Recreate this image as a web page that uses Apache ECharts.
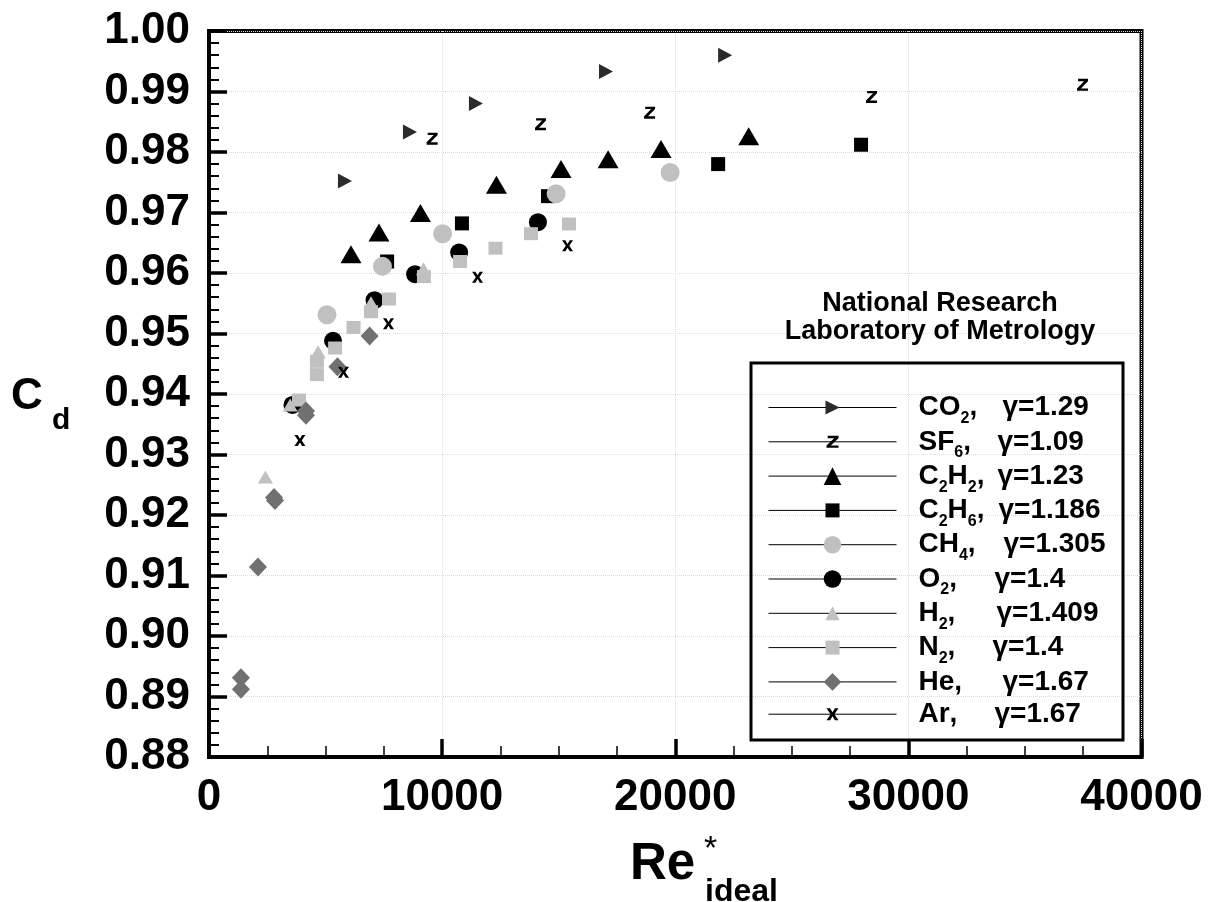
<!DOCTYPE html>
<html><head><meta charset="utf-8">
<script src="https://cdn.jsdelivr.net/npm/echarts@6/dist/echarts.min.js"></script>
<style>html,body{margin:0;padding:0;background:#fff}#c{width:1214px;height:902px}</style>
</head><body><div id="c"></div>
<script>
const FONT = '"Liberation Sans", Arial, Helvetica, sans-serif';

// ---- data (Re*ideal, Cd) ----
const seriesNames = ['CO2','SF6','C2H2','C2H6','CH4','O2','H2','N2','He','Ar'];
const co2  = [[5830,0.9752],[8620,0.9833],[11450,0.9880],[17030,0.9933],[22140,0.9960]];
const sf6  = [[9570,0.9822],[14220,0.9846],[18900,0.9865],[28420,0.9891],[37470,0.9911]];
const c2h2 = [[6090,0.9631],[7290,0.9667],[9070,0.9699],[12330,0.9746],[15100,0.9772],[17120,0.9788],[19390,0.9805],[23150,0.9826]];
const c2h6 = [[7640,0.9619],[10850,0.9682],[14540,0.9727],[21840,0.9780],[27970,0.9812]];
const ch4  = [[5060,0.9531],[7440,0.9611],[10020,0.9665],[14890,0.9731],[19780,0.9766]];
const o2   = [[3580,0.9382],[5320,0.9488],[7100,0.9555],[8840,0.9598],[10730,0.9634],[14110,0.9684]];
const h2   = [[2420,0.9263],[3480,0.9382],[4680,0.9470],[6950,0.9551],[9200,0.9607]];
const n2   = [[3860,0.9390],[4630,0.9454],[4630,0.9432],[5410,0.9476],[6200,0.9510],[6950,0.9536],[7720,0.9557],[9220,0.9594],[10770,0.9619],[12290,0.9641],[13810,0.9665],[15440,0.9681]];
const he   = [[1370,0.8931],[1370,0.8912],[2100,0.9114],[2790,0.9229],[2830,0.9224],[4160,0.9372],[4160,0.9365],[5510,0.9445],[6890,0.9496]];
const ar   = [[3900,0.9323],[5770,0.9436],[7700,0.9516],[11520,0.9593],[15380,0.9645]];
const seriesData = [co2, sf6, c2h2, c2h6, ch4, o2, h2, n2, he, ar];

// legend text pieces: [text, isSubscript]
const legendParts = [
  [['CO',0],['2',1]],
  [['SF',0],['6',1]],
  [['C',0],['2',1],['H',0],['2',1]],
  [['C',0],['2',1],['H',0],['6',1]],
  [['CH',0],['4',1]],
  [['O',0],['2',1]],
  [['H',0],['2',1]],
  [['N',0],['2',1]],
  [['He',0]],
  [['Ar',0]]
];
const legendGamma = ['γ=1.29','γ=1.09','γ=1.23','γ=1.186','γ=1.305','γ=1.4','γ=1.409','γ=1.4','γ=1.67','γ=1.67'];
const gammaOffset = [84,79,79,80,85,76,78,74,84,76];

// ---- marker shapes (0..10 unit box), padded so legend glyphs keep their relative size ----
const ITEM_H = 22, LEG_SYM = ITEM_H * 0.8;
function padded(body, glyph) {
  const p = (LEG_SYM * 10 / glyph - 10) / 2;
  const a = -p, b = 10 + p;
  return {path: 'path://M' + a + ',' + a + ' L' + a + ',' + a + ' M' + b + ',' + b + ' L' + b + ',' + b + ' ' + body, k: (10 + 2 * p) / 10};
}
const TRI_R = 'M0,0 L10,5 L0,10 Z';
const ZED = 'M1,0 L10,0 L10,2 L3.6,8 L10,8 L10,10 L0,10 L0,8 L6.4,2 L1,2 Z';
const EX = 'M0,0 L3,0 L5,3.3 L7,0 L10,0 L6.6,5 L10,10 L7,10 L5,6.7 L3,10 L0,10 L3.4,5 Z';
const SQ = 'M0,0 L10,0 L10,10 L0,10 Z';
const TRI_U = 'M5,0 L10,10 L0,10 Z';
function mk(body, glyph, size, color) {
  const q = padded(body, glyph);
  return {symbol: q.path, size: [size[0] * q.k, size[1] * q.k], color: color};
}
const styles = [
  mk(TRI_R, 14, [14,15], '#2b2b2b'),
  mk(ZED, 12, [11,12], '#000'),
  {symbol: 'triangle', size: [21,18], color: '#000'},
  mk(SQ, 14, [14,14], '#000'),
  {symbol: 'circle', size: 19, color: '#c0c0c0'},
  {symbol: 'circle', size: 18, color: '#000'},
  mk(TRI_U, 14, [15,13], '#c0c0c0'),
  mk(SQ, 14, [14,13], '#c0c0c0'),
  {symbol: 'diamond', size: [18,19], color: '#707070'},
  mk(EX, 12, [11,11], '#000')
];

const MAIN = 28, SUB = 16, LH = 34;
const ctx = document.createElement('canvas').getContext('2d');
function tw(t, size) { ctx.font = 'bold ' + size + 'px ' + FONT; return ctx.measureText(t).width; }

const rich = {
  sp: {width: 17, fontSize: MAIN, fontWeight: 'bold', fontFamily: FONT, lineHeight: LH, color: '#000'},
  m: {fontSize: MAIN, fontWeight: 'bold', fontFamily: FONT, lineHeight: LH, color: '#000', verticalAlign: 'middle'},
  s: {fontSize: SUB, fontWeight: 'bold', fontFamily: FONT, lineHeight: 12, height: 12, color: '#000', verticalAlign: 'bottom'},
  g: {fontSize: MAIN, fontWeight: 'bold', fontFamily: FONT, lineHeight: LH, color: '#000', verticalAlign: 'middle'}
};
const legendText = {};
seriesNames.forEach((n, i) => {
  let w = 0, str = '{sp| }';
  legendParts[i].forEach(p => {
    w += tw(p[0], p[1] ? SUB : MAIN);
    str += '{' + (p[1] ? 's' : 'm') + '|' + p[0] + '}';
  });
  const cw = Math.max(tw(',', MAIN) + 2, gammaOffset[i] - w);
  rich['c' + i] = {width: cw, fontSize: MAIN, fontWeight: 'bold', fontFamily: FONT, lineHeight: LH, color: '#000', verticalAlign: 'middle'};
  str += '{c' + i + '|,}{g|' + legendGamma[i] + '}';
  legendText[n] = str;
});

const series = seriesNames.map((n, i) => ({
  name: n,
  type: 'line',
  data: seriesData[i],
  symbol: styles[i].symbol,
  symbolSize: styles[i].size,
  showSymbol: true,
  itemStyle: {color: styles[i].color, opacity: 1},
  lineStyle: {width: 0, opacity: 0},
  silent: true,
  animation: false
}));

const chart = echarts.init(document.getElementById('c'), null, {renderer: 'canvas'});
chart.setOption({
  backgroundColor: '#fff',
  animation: false,
  grid: {left: 209, right: 72.5, top: 31, bottom: 145, show: true, borderColor: '#000', borderWidth: 4, backgroundColor: 'transparent'},
  xAxis: {
    type: 'value', min: 0, max: 40000, interval: 10000,
    axisLine: {show: true, onZero: false, lineStyle: {color: '#000', width: 4}},
    axisTick: {show: true, inside: true, length: 18, lineStyle: {color: '#000', width: 3.5}},
    minorTick: {show: true, splitNumber: 4, length: 11, lineStyle: {color: '#000', width: 1.5}},
    splitLine: {show: true, lineStyle: {color: '#dcdcdc', width: 1, type: 'dotted'}},
    axisLabel: {margin: 19, color: '#000', fontSize: 44, fontWeight: 'bold', fontFamily: FONT,
      formatter: v => String(Math.round(v))}
  },
  yAxis: {
    type: 'value', min: 0.88, max: 1.00, interval: 0.01,
    axisLine: {show: true, onZero: false, lineStyle: {color: '#000', width: 4}},
    axisTick: {show: true, inside: true, length: 18, lineStyle: {color: '#000', width: 3.5}},
    minorTick: {show: true, splitNumber: 5, length: 10, lineStyle: {color: '#000', width: 2}},
    splitLine: {show: true, lineStyle: {color: '#dcdcdc', width: 1, type: 'dotted'}},
    axisLabel: {margin: 19, color: '#000', fontSize: 44, fontWeight: 'bold', fontFamily: FONT,
      formatter: v => v.toFixed(2)}
  },
  legend: {
    data: seriesNames,
    orient: 'vertical',
    left: 768, top: 390.5,
    padding: 0, itemGap: -1.7,
    itemWidth: 128, itemHeight: ITEM_H,
    selectedMode: false,
    lineStyle: {color: '#000', width: 1, opacity: 1, type: 'solid'},
    textStyle: {fontSize: MAIN, fontWeight: 'bold', fontFamily: FONT, color: '#000', lineHeight: LH, rich: rich},
    formatter: n => legendText[n]
  },
  graphic: [
    {type: 'rect', shape: {x: 751, y: 363, width: 372, height: 377}, style: {fill: 'none', stroke: '#000', lineWidth: 3}, z: 100},
    {type: 'text', x: 940, y: 304, style: {text: 'National Research', fill: '#000', font: 'bold 27px ' + FONT, align: 'center', verticalAlign: 'middle', textAlign: 'center', textVerticalAlign: 'middle'}, z: 100},
    {type: 'text', x: 940, y: 332, style: {text: 'Laboratory of Metrology', fill: '#000', font: 'bold 27px ' + FONT, align: 'center', verticalAlign: 'middle', textAlign: 'center', textVerticalAlign: 'middle'}, z: 100},
    {type: 'text', x: 11, y: 397, style: {text: 'C', fill: '#000', font: 'bold 44px ' + FONT, align: 'left', verticalAlign: 'middle', textAlign: 'left', textVerticalAlign: 'middle'}, z: 100},
    {type: 'text', x: 52, y: 421, style: {text: 'd', fill: '#000', font: 'bold 30px ' + FONT, align: 'left', verticalAlign: 'middle', textAlign: 'left', textVerticalAlign: 'middle'}, z: 100},
    {type: 'text', x: 630, y: 865, style: {text: 'Re', fill: '#000', font: 'bold 51px ' + FONT, align: 'left', verticalAlign: 'middle', textAlign: 'left', textVerticalAlign: 'middle'}, z: 100},
    {type: 'text', x: 704, y: 850, style: {text: '*', fill: '#000', font: '34px ' + FONT, align: 'left', verticalAlign: 'middle', textAlign: 'left', textVerticalAlign: 'middle'}, z: 100},
    {type: 'text', x: 705, y: 892, style: {text: 'ideal', fill: '#000', font: 'bold 32px ' + FONT, align: 'left', verticalAlign: 'middle', textAlign: 'left', textVerticalAlign: 'middle'}, z: 100}
  ],
  series: series
});
</script></body></html>
